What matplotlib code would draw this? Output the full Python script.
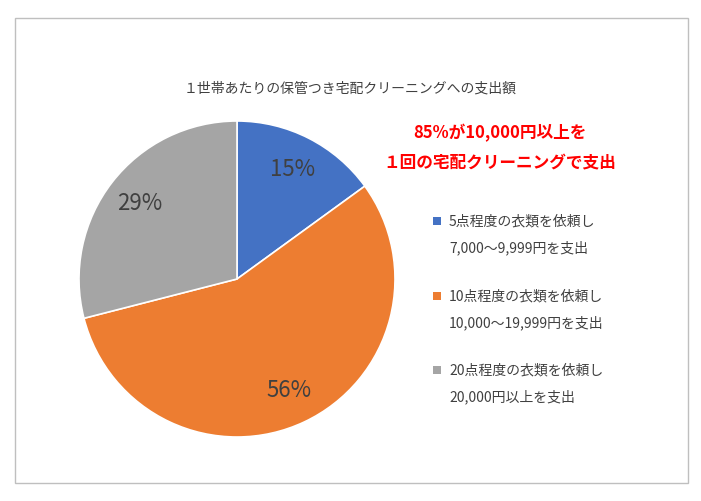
import matplotlib
matplotlib.use("Agg")
import matplotlib.pyplot as plt
from matplotlib.patches import Rectangle

plt.rcParams['font.family'] = ['Noto Sans CJK JP']

labels = ["5点程度の衣類を依頼し\n7,000〜9,999円を支出",
          "10点程度の衣類を依頼し\n10,000〜19,999円を支出",
          "20点程度の衣類を依頼し\n20,000円以上を支出"]
values = [15, 56, 29]
colors = ["#4472C4", "#ED7D31", "#A5A5A5"]
title = "１世帯あたりの保管つき宅配クリーニングへの支出額"
note = ["85%が10,000円以上を", "１回の宅配クリーニングで支出"]

fig = plt.figure(figsize=(7.01, 5.01), dpi=100)
fig.patches.append(Rectangle((15/701, 18/501), 673/701, 465/501, transform=fig.transFigure,
                             fill=False, edgecolor="#BFBFBF", lw=1))
ax = fig.add_axes([(237-158)/701, 1-(279+158)/501, 316/701, 316/501])
ax.pie(values, colors=colors, startangle=90, counterclock=False,
       autopct=lambda p: f"{p:.0f}%", pctdistance=0.78,
       wedgeprops=dict(edgecolor="white", linewidth=1.2),
       textprops=dict(fontsize=16, color="#404040"))
ax.set_xlim(-1, 1)
ax.set_ylim(-1, 1)
ax.set_aspect('equal')
ax.axis('off')

fig.text(350/701, 1-88/501, title, ha="center", va="center", fontsize=10, color="#404040")
fig.text(500/701, 1-133/501, note[0], ha="center", va="center", fontsize=12, color="#FF0000", fontweight="bold")
fig.text(500/701, 1-163/501, note[1], ha="center", va="center", fontsize=12, color="#FF0000", fontweight="bold")

ys = [221, 296, 370]
for y, lab, c in zip(ys, labels, colors):
    fig.patches.append(Rectangle((433/701, 1-(y+4)/501), 8/701, 8/501, transform=fig.transFigure,
                                 facecolor=c, edgecolor="none"))
    l1, l2 = lab.split("\n")
    fig.text(449/701, 1-y/501, l1, ha="left", va="center", fontsize=10, color="#404040")
    fig.text(449/701, 1-(y+27)/501, l2, ha="left", va="center", fontsize=10, color="#404040")

fig.savefig("out.png", dpi=100)
